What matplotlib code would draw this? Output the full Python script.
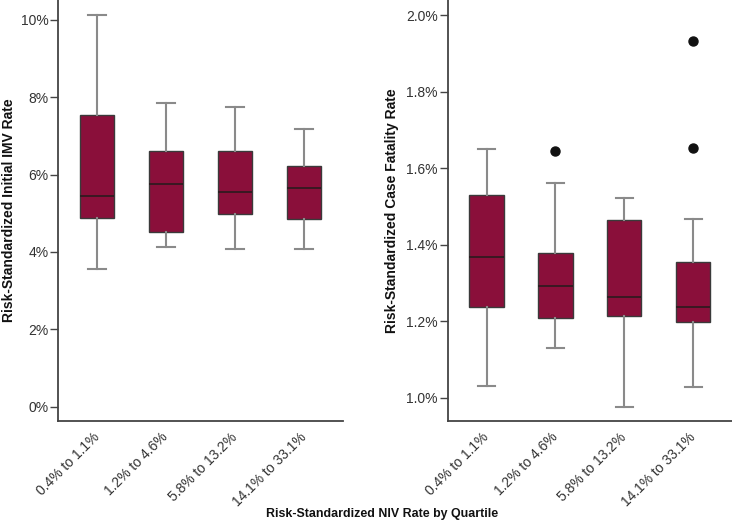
import matplotlib
matplotlib.use("Agg")
import matplotlib.pyplot as plt
from matplotlib.ticker import FuncFormatter

plt.rcParams['font.family'] = ['Liberation Sans', 'DejaVu Sans']
narrow = ['Liberation Sans Narrow', 'Liberation Sans', 'DejaVu Sans']

quartiles = ['0.4% to 1.1%', '1.2% to 4.6%', '5.8% to 13.2%', '14.1% to 33.1%']

# initial IMV rate (%)
imv_low = [3.55, 4.13, 4.07, 4.08]
imv_q1 = [4.87, 4.51, 4.98, 4.86]
imv_med = [5.45, 5.75, 5.54, 5.66]
imv_q3 = [7.54, 6.61, 6.61, 6.21]
imv_high = [10.12, 7.86, 7.75, 7.17]
imv_out = [[], [], [], []]

# case fatality rate (%)
cfr_low = [1.031, 1.129, 0.976, 1.027]
cfr_q1 = [1.238, 1.209, 1.214, 1.199]
cfr_med = [1.367, 1.291, 1.264, 1.238]
cfr_q3 = [1.530, 1.378, 1.464, 1.354]
cfr_high = [1.649, 1.561, 1.521, 1.467]
cfr_out = [[], [1.646], [], [1.933, 1.654]]

box_col = '#8a0f3a'


def make_stats(low, q1, med, q3, high, out):
    stats = []
    for i in range(len(low)):
        stats.append(dict(whislo=low[i], q1=q1[i], med=med[i], q3=q3[i],
                          whishi=high[i], fliers=out[i]))
    return stats


def draw(ax, stats, ylim, ticks, fmt, ylabel):
    ax.bxp(stats, positions=range(len(stats)), widths=0.5, patch_artist=True,
           boxprops=dict(facecolor=box_col, edgecolor='#3a3a3a', linewidth=1.0),
           medianprops=dict(color='#2a1a1e', linewidth=1.2),
           whiskerprops=dict(color='#8a8a8a', linewidth=1.5),
           capprops=dict(color='#8a8a8a', linewidth=1.5),
           flierprops=dict(marker='o', markerfacecolor='#111111',
                           markeredgecolor='#111111', markersize=6.5))
    ax.set_xlim(-0.565, 3.565)
    ax.set_ylim(*ylim)
    ax.set_yticks(ticks)
    ax.yaxis.set_major_formatter(FuncFormatter(fmt))
    ax.set_xticks(range(len(quartiles)))
    ax.set_xticklabels(quartiles, rotation=45, ha='right', va='center',
                       rotation_mode='anchor')
    ax.tick_params(axis='x', length=0, pad=10, labelsize=10, colors='#333333')
    ax.tick_params(axis='y', length=5.5, width=1, pad=1.5, labelsize=10,
                   colors='#333333', color='#444444')
    for s in ['top', 'right']:
        ax.spines[s].set_visible(False)
    for s in ['left', 'bottom']:
        ax.spines[s].set_color('#444444')
        ax.spines[s].set_linewidth(1.3)
    ax.set_ylabel(ylabel, fontsize=10, fontweight='bold', color='#111111',
                  family=narrow)


fig = plt.figure(figsize=(7.32, 5.21), dpi=100)
ax1 = fig.add_axes([0.0792, 0.192, 0.3894, 0.808])
ax2 = fig.add_axes([0.6116, 0.192, 0.3884, 0.808])

draw(ax1, make_stats(imv_low, imv_q1, imv_med, imv_q3, imv_high, imv_out),
     (-0.37, 10.51), [0, 2, 4, 6, 8, 10], lambda v, p: f'{v:.0f}%',
     'Risk-Standardized Initial IMV Rate')
draw(ax2, make_stats(cfr_low, cfr_q1, cfr_med, cfr_q3, cfr_high, cfr_out),
     (0.939, 2.04), [1.0, 1.2, 1.4, 1.6, 1.8, 2.0], lambda v, p: f'{v:.1f}%',
     'Risk-Standardized Case Fatality Rate')
ax1.yaxis.set_label_coords(-0.147, 0.5)
ax2.yaxis.set_label_coords(-0.172, 0.5)

fig.text(0.522, 0.0077, 'Risk-Standardized NIV Rate by Quartile', ha='center',
         va='baseline', fontsize=8.9, fontweight='bold', color='#111111',
         family=narrow)

fig.savefig('out.png', dpi=100)
